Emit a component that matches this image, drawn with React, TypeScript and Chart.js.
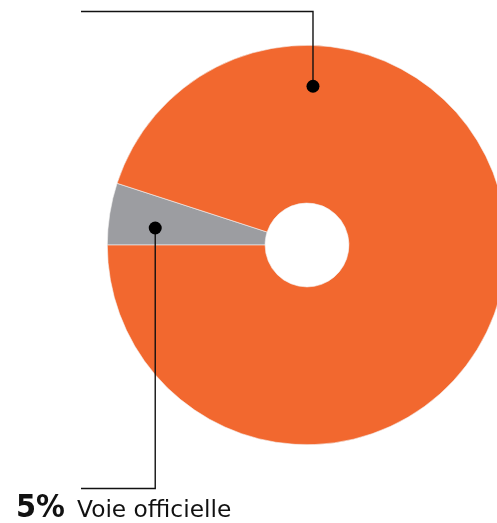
import React, { useEffect, useRef } from "react";
import { Chart, registerables } from "chart.js";

Chart.register(...registerables);

const categories: string[] = ["Voie officielle", "Autres"];
const values: number[] = [5, 95];
const colors: string[] = ["#9c9da1", "#f2682f"];
const valueLabel = "5%";
const nameLabel = "Voie officielle";

const leaderPlugin = {
  id: "leaders",
  afterDatasetsDraw(chart: any) {
    const meta = chart.getDatasetMeta(0);
    const arcs = meta.data;
    if (!arcs || arcs.length < 2) return;
    const a0 = arcs[0];
    const cx = a0.x;
    const cy = a0.y;
    const R = a0.outerRadius;
    const ctx = chart.ctx;
    ctx.save();
    ctx.strokeStyle = "#111";
    ctx.fillStyle = "#000";
    ctx.lineWidth = 1.4;
    // orange (large) segment leader
    const ox = cx + 0.03 * R;
    const oy = cy - 0.795 * R;
    ctx.beginPath();
    ctx.moveTo(ox, oy);
    ctx.lineTo(ox, 11.5);
    ctx.lineTo(81, 11.5);
    ctx.stroke();
    ctx.beginPath();
    ctx.arc(ox, oy, 6.5, 0, Math.PI * 2);
    ctx.fill();
    // grey segment leader
    const gx = cx - 0.76 * R;
    const gy = cy - 0.085 * R;
    ctx.beginPath();
    ctx.moveTo(gx, gy);
    ctx.lineTo(gx, 488.5);
    ctx.lineTo(81, 488.5);
    ctx.stroke();
    ctx.beginPath();
    ctx.arc(gx, gy, 6.5, 0, Math.PI * 2);
    ctx.fill();
    ctx.restore();
  },
};

export default function App() {
  const ref = useRef<HTMLCanvasElement | null>(null);
  useEffect(() => {
    document.body.style.margin = "0";
    if (!ref.current) return;
    const chart = new Chart(ref.current, {
      type: "doughnut",
      data: {
        labels: categories,
        datasets: [
          {
            data: values,
            backgroundColor: colors,
            borderColor: "#f4f4f4",
            borderWidth: 0.6,
            hoverOffset: 0,
          },
        ],
      },
      options: {
        animation: false,
        responsive: false,
        maintainAspectRatio: false,
        rotation: 270,
        cutout: "21%",
        layout: { padding: { left: 107, right: 8, top: 45, bottom: 78 } },
        plugins: {
          legend: { display: false },
          tooltip: { enabled: false },
        },
      },
      plugins: [leaderPlugin],
    });
    return () => chart.destroy();
  }, []);

  return (
    <div
      style={{
        position: "fixed",
        left: 0,
        top: 0,
        width: 497,
        height: 523,
        overflow: "hidden",
        background: "#fff",
      }}
    >
      <canvas
        ref={ref}
        width={515}
        height={523}
        style={{ position: "absolute", left: 0, top: 0, width: 515, height: 523 }}
      />
      <span
        style={{
          position: "absolute",
          left: 16,
          top: 517 - 0.846 * 32,
          lineHeight: 1,
          fontSize: 32,
          fontWeight: 700,
          fontFamily: "'DejaVu Sans Condensed', 'DejaVu Sans', sans-serif",
          color: "#111",
          whiteSpace: "nowrap",
        }}
      >
        {valueLabel}
      </span>
      <span
        style={{
          position: "absolute",
          left: 77,
          top: 517 - 0.846 * 23.3,
          lineHeight: 1,
          fontSize: 23.3,
          fontFamily: "'DejaVu Sans', sans-serif",
          color: "#111",
          whiteSpace: "nowrap",
        }}
      >
        {nameLabel}
      </span>
    </div>
  );
}
